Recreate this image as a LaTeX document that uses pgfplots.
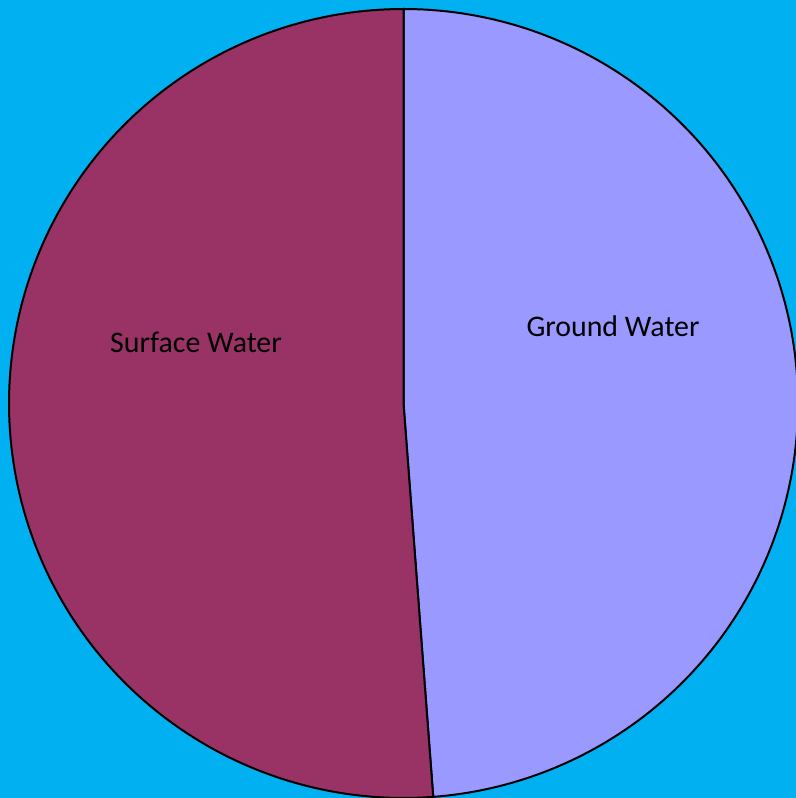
\documentclass[border=0pt]{standalone}
\usepackage{fontspec}
\setmainfont{Carlito}
\usepackage{pgfplots}
\usepackage{pgfplotstable}
\pgfplotsset{compat=1.18}

\definecolor{bgblue}{HTML}{00B0F0}
\definecolor{surface}{HTML}{993366}
\definecolor{ground}{HTML}{9999FF}

% Share of each water source (percent)
\pgfplotstableread{
source  share
Ground  48.8
Surface 51.2
}\sharetable
\pgfplotstablegetelem{0}{share}\of\sharetable
\let\groundshare\pgfplotsretval
\pgfplotstablegetelem{1}{share}\of\sharetable
\let\surfaceshare\pgfplotsretval

% Pie centre and radius in axis units
\def\cx{403.5}
\def\cy{394.5}
\def\rr{394.5}

\begin{document}
\begin{tikzpicture}
\pgfmathsetmacro{\startang}{90}
\pgfmathsetmacro{\splitang}{90-3.6*\groundshare}
\pgfmathsetmacro{\endang}{\splitang-3.6*\surfaceshare}
\begin{axis}[
  width=796bp, height=798bp, scale only axis,
  xmin=0, xmax=796, ymin=0, ymax=798,
  axis lines=none,
  axis background/.style={fill=bgblue},
  clip=true,
]
% Ground Water wedge
\addplot[fill=ground, draw=black, line width=2bp, line join=round,
  domain=\startang:\splitang, samples=240, variable=\t]
  ({\cx+\rr*cos(\t)}, {\cy+\rr*sin(\t)}) -- (axis cs:\cx,\cy) -- cycle;
% Surface Water wedge
\addplot[fill=surface, draw=black, line width=2bp, line join=round,
  domain=\splitang:\endang, samples=240, variable=\t]
  ({\cx+\rr*cos(\t)}, {\cy+\rr*sin(\t)}) -- (axis cs:\cx,\cy) -- cycle;
\node[font=\fontsize{30}{36}\selectfont, text=black] at (axis cs:613,472) {Ground Water};
\node[font=\fontsize{30}{36}\selectfont, text=black] at (axis cs:196,456) {Surface Water};
\end{axis}
\end{tikzpicture}
\end{document}
